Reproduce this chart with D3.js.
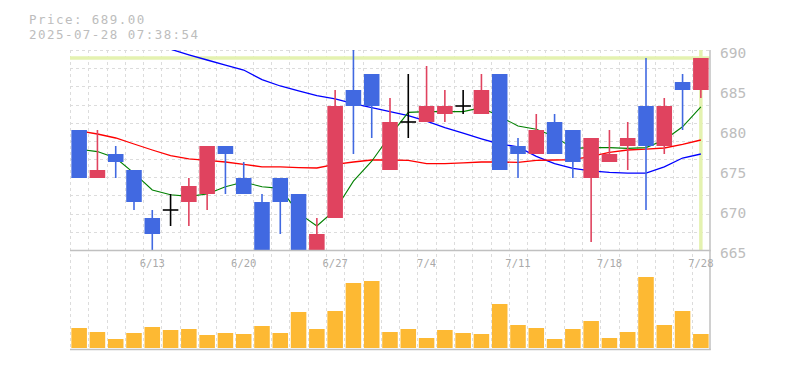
<!DOCTYPE html>
<html>
<head>
<meta charset="utf-8">
<script src="https://cdn.jsdelivr.net/npm/d3@7"></script>
<style>
  body { margin: 0; background: #fff; }
  svg { display: block; }
  text { font-family: "DejaVu Sans Mono", monospace; }
</style>
</head>
<body>
<div id="chart"></div>
<script>
// ------- data --------

var dates = ['6/9','6/10','6/11','6/12','6/13','6/16','6/17','6/18','6/19','6/20',
    '6/23','6/24','6/25','6/26','6/27','6/30','7/1','7/2','7/3','7/4',
    '7/7','7/8','7/9','7/10','7/11','7/14','7/15','7/16','7/17','7/18',
    '7/22','7/23','7/24','7/25','7/28']

var tickDates = ['6/13','6/20','6/27','7/4','7/11','7/18','7/28']
var priceTicks = [665, 670, 675, 680, 685, 690]

var opens  = [680,674,677,675,669,670,671,672,678,674,671,674,672,664,669,685,687,675,681,681,682,683,682,687,678,677,681,680,674,676,678,683,678,686,685]
var highs  = [680,680,678,675,670,672,674,678,678,676,672,674,672,669,685,690.5,687,684,687,688,685,685,687,687,679,682,682,680,679,680,681,689,684,687,689]
var lows   = [674,674,674,670,664.5,668,668,670,672,672,664.5,667,663.5,663.5,669,677,679,675,679,681,681,682,682,675,674,677,677,674,666,676,675,670,677,680,684]
var closes = [674,675,676,671,667,670,673,678,677,672,664.5,671,663.5,667,683,683,683,681,681,683,683,683,685,675,677,680,677,676,679,677,679,678,683,685,689]

var volumes = [20,16,9,15,21,18,19,13,15,14,22,15,36,19,37,65,67,16,19,10,18,15,14,44,23,20,9,19,27,10,16,71,23,37,14]

// moving averages (short / mid / long)
var ma5  = [677.6,677.3,676.5,674.6,672.5,671.9,671.7,672.0,672.9,673.5,672.9,672.7,669.6,668.0,670.0,673.6,676.1,679.3,682.2,682.3,682.3,682.3,682.8,681.7,680.5,680.1,679.2,677.7,677.8,677.8,677.7,677.8,678.75,680.4,682.9]
var ma25 = [679.9,679.5,679.0,678.25,677.5,676.8,676.4,676.2,676.0,675.7,675.4,675.4,675.3,675.25,675.7,676.0,676.25,676.25,676.2,675.8,675.8,675.9,676.0,676.0,675.95,676.2,676.25,676.3,676.7,677.2,677.5,677.6,677.75,678.2,678.75]
var ma75 = [null,null,null,null,null,690.1,689.4,688.75,688.1,687.5,686.3,685.5,684.9,684.3,683.9,683.3,682.8,682.3,681.8,681.1,680.3,679.6,678.9,678.25,677.9,676.7,675.8,675.2,674.9,674.7,674.6,674.6,675.4,676.5,677.0]

var lastPrice = 689.00
var stamp = '2025-07-28 07:38:54'

// ------- svg --------

var width = 785, height = 370
var left = 70, right = 710
var priceTop = 50, priceBottom = 250
var volBottom = 349

var svg = d3.select('#chart').append('svg')
    .attr('width', width)
    .attr('height', height)

var x = d3.scaleBand()
    .domain(dates)
    .range([left, right])
    .paddingInner(0.15)
    .paddingOuter(0.075)

var step = x.step(), bw = x.bandwidth()
function cx(i) { return x(dates[i]) + bw / 2 }

var y = d3.scaleLinear().domain([665, 690]).range([priceBottom, priceTop])
var yv = d3.scaleLinear().domain([0, 100]).range([volBottom - 1, volBottom - 101])

svg.append('clipPath').attr('id', 'clip')
    .append('rect')
    .attr('x', left).attr('y', priceTop)
    .attr('width', right - left).attr('height', priceBottom - priceTop)

// ------- grid --------

var grid = svg.append('g')
    .attr('stroke', '#dcdcdc')
    .attr('stroke-dasharray', '3,3')
    .attr('stroke-width', 1)

d3.range(0, dates.length).forEach(function(k) {
    var gx = Math.round(left + k * step) + 0.5
    grid.append('line').attr('x1', gx).attr('x2', gx).attr('y1', priceTop).attr('y2', volBottom)
})
d3.range(0, 11).forEach(function(k) {
    var gy = Math.round(priceTop + k * (priceBottom - priceTop) / 11) + 0.5
    grid.append('line').attr('x1', left).attr('x2', right).attr('y1', gy).attr('y2', gy)
})

// ------- current price markers --------

var mark = svg.append('g').attr('clip-path', 'url(#clip)')
    .attr('stroke', '#e4f2b0').attr('stroke-width', 3.5)

mark.append('line')
    .attr('x1', left).attr('x2', right)
    .attr('y1', y(lastPrice)).attr('y2', y(lastPrice))
mark.append('line')
    .attr('x1', cx(dates.length - 1)).attr('x2', cx(dates.length - 1))
    .attr('y1', priceTop).attr('y2', priceBottom)

// ------- moving averages --------

var maG = svg.append('g').attr('clip-path', 'url(#clip)').attr('fill', 'none')

function maLine(vals) {
    return d3.line()
        .defined(function(d) { return d != null })
        .x(function(d, i) { return cx(i) })
        .y(function(d) { return y(d) })(vals)
}

maG.append('path').attr('d', maLine(ma75)).attr('stroke', '#0000ff').attr('stroke-width', 1.3)
maG.append('path').attr('d', maLine(ma25)).attr('stroke', '#ff0000').attr('stroke-width', 1.3)
maG.append('path').attr('d', maLine(ma5)).attr('stroke', '#008000').attr('stroke-width', 1.1)

// ------- candles --------

var upColor = '#e0435f', downColor = '#4169e1'
function candleColor(i) {
    if (closes[i] > opens[i]) return upColor
    if (closes[i] < opens[i]) return downColor
    return '#000'
}

// bind the index itself so filtered selections keep the right values
var candles = svg.append('g').attr('clip-path', 'url(#clip)')
    .selectAll('g')
    .data(d3.range(dates.length))
    .enter()
    .append('g')

candles.append('line')
    .attr('x1', function(i) { return cx(i) })
    .attr('x2', function(i) { return cx(i) })
    .attr('y1', function(i) { return y(highs[i]) })
    .attr('y2', function(i) { return y(lows[i]) })
    .attr('stroke', function(i) { return candleColor(i) })
    .attr('stroke-width', 1.6)

candles.filter(function(i) { return opens[i] != closes[i] })
    .append('rect')
    .attr('x', function(i) { return x(dates[i]) })
    .attr('width', bw)
    .attr('y', function(i) { return y(Math.max(opens[i], closes[i])) })
    .attr('height', function(i) { return Math.abs(y(opens[i]) - y(closes[i])) })
    .attr('fill', function(i) { return candleColor(i) })

candles.filter(function(i) { return opens[i] == closes[i] })
    .append('line')
    .attr('x1', function(i) { return x(dates[i]) })
    .attr('x2', function(i) { return x(dates[i]) + bw })
    .attr('y1', function(i) { return y(opens[i]) })
    .attr('y2', function(i) { return y(opens[i]) })
    .attr('stroke', '#000')
    .attr('stroke-width', 1.6)

// ------- volume --------

svg.append('g').selectAll('rect')
    .data(volumes)
    .enter()
    .append('rect')
    .attr('x', function(d, i) { return x(dates[i]) })
    .attr('width', bw)
    .attr('y', function(d) { return yv(d) })
    .attr('height', function(d) { return yv(0) - yv(d) })
    .attr('fill', '#fdb933')

// ------- frame --------

var frame = svg.append('g').attr('stroke', '#c0c0c0').attr('stroke-width', 1.5)
frame.append('line').attr('x1', left).attr('x2', right + 0.75).attr('y1', priceBottom + 0.5).attr('y2', priceBottom + 0.5)
frame.append('line').attr('x1', left).attr('x2', right + 0.75).attr('y1', volBottom + 0.5).attr('y2', volBottom + 0.5)
frame.append('line').attr('x1', right).attr('x2', right).attr('y1', priceTop).attr('y2', volBottom + 1)

// ------- labels --------

svg.append('g').selectAll('text')
    .data(tickDates)
    .enter()
    .append('text')
    .attr('x', function(d) { return x(d) + bw / 2 })
    .attr('y', 266.5)
    .attr('text-anchor', 'middle')
    .style('font-size', '10.5px')
    .style('fill', '#aaa')
    .text(function(d) { return d })

svg.append('g').selectAll('text')
    .data(priceTicks)
    .enter()
    .append('text')
    .attr('x', 720)
    .attr('y', function(d) { return y(d) + 7.5 })
    .style('font-size', '14.5px')
    .style('fill', '#bdbdbd')
    .text(function(d) { return d })

svg.append('text')
    .attr('x', 29).attr('y', 23.5)
    .style('font-size', '12.5px')
    .style('letter-spacing', '1.45px')
    .style('fill', '#bdbdbd')
    .text('Price: ' + lastPrice.toFixed(2))

svg.append('text')
    .attr('x', 29).attr('y', 38.5)
    .style('font-size', '12.5px')
    .style('letter-spacing', '1.45px')
    .style('fill', '#bdbdbd')
    .text(stamp)
</script>
</body>
</html>
